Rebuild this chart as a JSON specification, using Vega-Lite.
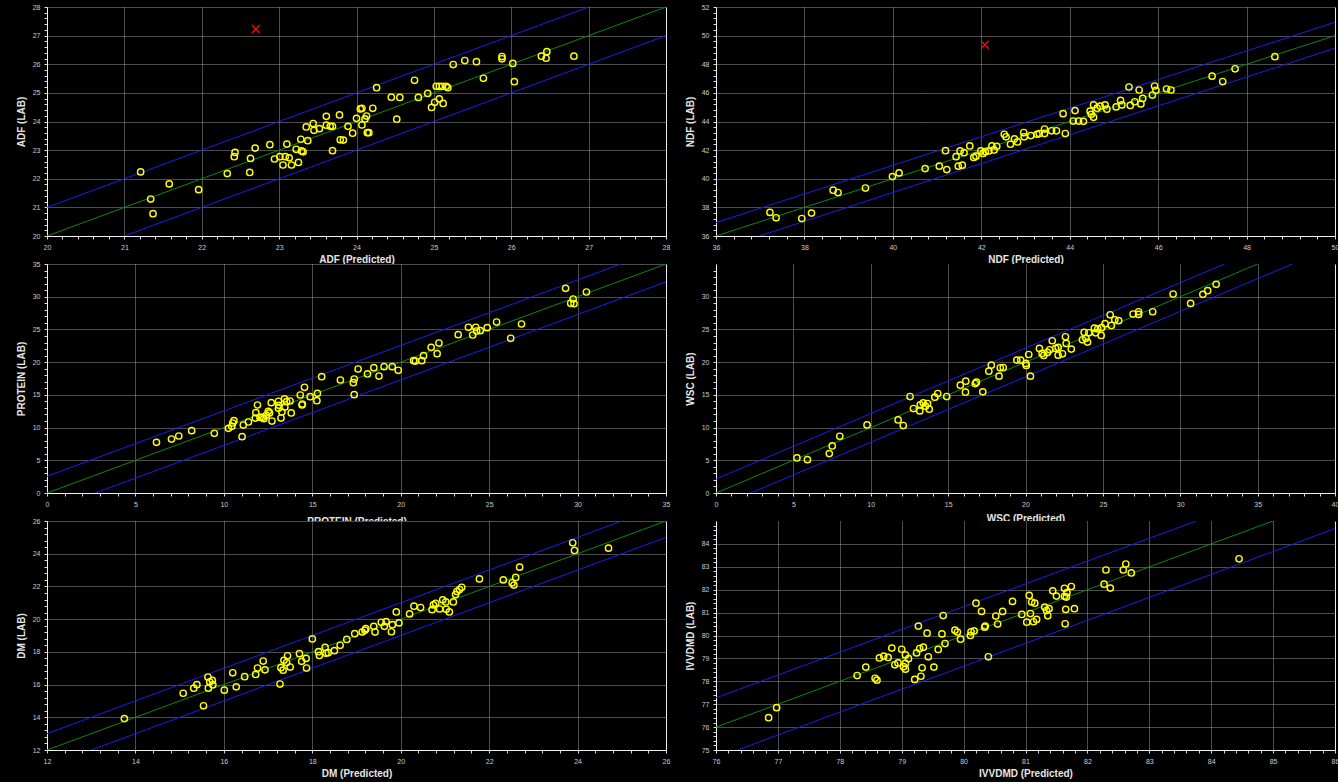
{
  "$schema": "https://vega.github.io/schema/vega-lite/v6.json",
  "autosize": {"type": "none"},
  "padding": {"left": 47, "top": 7, "right": 1291, "bottom": 775},
  "background": "#000000",
  "columns": 2,
  "spacing": {"row": 28, "column": 50},
  "bounds": "flush",
  "datasets": {
    "lines": [
      {"panel": "ADF", "line": "fit", "p": 20, "l": 20}, {"panel": "ADF", "line": "fit", "p": 28, "l": 28},
      {"panel": "ADF", "line": "upper", "p": 20, "l": 21}, {"panel": "ADF", "line": "upper", "p": 27, "l": 28},
      {"panel": "ADF", "line": "lower", "p": 21, "l": 20}, {"panel": "ADF", "line": "lower", "p": 28, "l": 27},
      {"panel": "NDF", "line": "fit", "p": 36, "l": 36}, {"panel": "NDF", "line": "fit", "p": 50, "l": 50},
      {"panel": "NDF", "line": "upper", "p": 36, "l": 36.94}, {"panel": "NDF", "line": "upper", "p": 50, "l": 50.93},
      {"panel": "NDF", "line": "lower", "p": 36.98, "l": 36}, {"panel": "NDF", "line": "lower", "p": 50, "l": 49.12},
      {"panel": "PROTEIN", "line": "fit", "p": 0, "l": 0}, {"panel": "PROTEIN", "line": "fit", "p": 35, "l": 35},
      {"panel": "PROTEIN", "line": "upper", "p": 0, "l": 2.55}, {"panel": "PROTEIN", "line": "upper", "p": 32.45, "l": 35},
      {"panel": "PROTEIN", "line": "lower", "p": 2.72, "l": 0}, {"panel": "PROTEIN", "line": "lower", "p": 35, "l": 32.28},
      {"panel": "WSC", "line": "fit", "p": 0, "l": 0}, {"panel": "WSC", "line": "fit", "p": 35, "l": 35},
      {"panel": "WSC", "line": "upper", "p": 0, "l": 2.14}, {"panel": "WSC", "line": "upper", "p": 32.86, "l": 35},
      {"panel": "WSC", "line": "lower", "p": 2.24, "l": 0}, {"panel": "WSC", "line": "lower", "p": 37.24, "l": 35},
      {"panel": "DM", "line": "fit", "p": 12, "l": 12}, {"panel": "DM", "line": "fit", "p": 26, "l": 26},
      {"panel": "DM", "line": "upper", "p": 12, "l": 13}, {"panel": "DM", "line": "upper", "p": 25, "l": 26},
      {"panel": "DM", "line": "lower", "p": 13, "l": 12}, {"panel": "DM", "line": "lower", "p": 26, "l": 25},
      {"panel": "IVVDMD", "line": "fit", "p": 76, "l": 76}, {"panel": "IVVDMD", "line": "fit", "p": 85, "l": 85},
      {"panel": "IVVDMD", "line": "upper", "p": 76, "l": 77.28}, {"panel": "IVVDMD", "line": "upper", "p": 83.76, "l": 85},
      {"panel": "IVVDMD", "line": "lower", "p": 76.35, "l": 75}, {"panel": "IVVDMD", "line": "lower", "p": 86, "l": 84.67}
    ],
    "outliers": [
      {"panel": "ADF", "p": 22.70, "l": 27.23},
      {"panel": "NDF", "p": 42.08, "l": 49.36}
    ],
    "ADF": [
      {"p":21.21,"l":22.24},{"p":21.34,"l":21.29},{"p":21.37,"l":20.78},{"p":21.58,"l":21.82},{"p":21.96,"l":21.62},
      {"p":22.33,"l":22.18},{"p":22.42,"l":22.77},{"p":22.43,"l":22.92},{"p":22.62,"l":22.22},{"p":22.63,"l":22.71},
      {"p":22.69,"l":23.07},{"p":22.88,"l":23.19},{"p":22.94,"l":22.69},{"p":23.01,"l":22.77},{"p":23.05,"l":22.48},
      {"p":23.08,"l":22.77},{"p":23.10,"l":23.21},{"p":23.13,"l":22.73},{"p":23.16,"l":22.48},{"p":23.22,"l":23.03},
      {"p":23.25,"l":22.57},{"p":23.28,"l":23.38},{"p":23.29,"l":22.97},{"p":23.31,"l":22.94},{"p":23.35,"l":23.81},
      {"p":23.37,"l":23.33},{"p":23.44,"l":23.93},{"p":23.45,"l":23.69},{"p":23.52,"l":23.75},{"p":23.61,"l":24.18},
      {"p":23.61,"l":23.87},{"p":23.66,"l":23.83},{"p":23.69,"l":23.83},{"p":23.69,"l":22.98},{"p":23.78,"l":24.23},
      {"p":23.79,"l":23.36},{"p":23.83,"l":23.35},{"p":23.89,"l":23.83},{"p":23.95,"l":23.59},{"p":24.00,"l":24.11},
      {"p":24.05,"l":24.44},{"p":24.07,"l":24.46},{"p":24.07,"l":23.88},{"p":24.11,"l":24.09},{"p":24.13,"l":24.19},
      {"p":24.14,"l":23.61},{"p":24.16,"l":23.61},{"p":24.21,"l":24.46},{"p":24.26,"l":25.18},{"p":24.45,"l":24.85},
      {"p":24.52,"l":24.08},{"p":24.56,"l":24.84},{"p":24.75,"l":25.44},{"p":24.80,"l":24.84},{"p":24.92,"l":24.98},
      {"p":24.97,"l":24.49},{"p":25.01,"l":24.67},{"p":25.03,"l":25.23},{"p":25.07,"l":25.23},{"p":25.07,"l":24.79},
      {"p":25.11,"l":25.23},{"p":25.12,"l":24.63},{"p":25.16,"l":25.23},{"p":25.18,"l":25.18},{"p":25.25,"l":25.99},
      {"p":25.40,"l":26.13},{"p":25.55,"l":26.09},{"p":25.64,"l":25.51},{"p":25.88,"l":26.19},{"p":25.88,"l":26.27},
      {"p":26.02,"l":26.03},{"p":26.04,"l":25.39},{"p":26.39,"l":26.28},{"p":26.45,"l":26.21},{"p":26.46,"l":26.44},
      {"p":26.81,"l":26.28}
    ],
    "NDF": [
      {"p":37.22,"l":37.65},{"p":37.36,"l":37.27},{"p":37.94,"l":37.22},{"p":38.16,"l":37.60},{"p":38.65,"l":39.20},
      {"p":38.76,"l":39.04},{"p":39.38,"l":39.35},{"p":39.99,"l":40.15},{"p":40.14,"l":40.41},{"p":40.73,"l":40.71},
      {"p":41.05,"l":40.88},{"p":41.19,"l":41.96},{"p":41.22,"l":40.64},{"p":41.43,"l":41.54},{"p":41.48,"l":40.88},
      {"p":41.52,"l":41.94},{"p":41.57,"l":40.95},{"p":41.61,"l":41.82},{"p":41.74,"l":42.29},{"p":41.83,"l":41.49},
      {"p":41.88,"l":41.58},{"p":41.99,"l":41.94},{"p":42.04,"l":41.77},{"p":42.09,"l":41.89},{"p":42.17,"l":41.94},
      {"p":42.24,"l":42.29},{"p":42.29,"l":42.01},{"p":42.35,"l":42.27},{"p":42.52,"l":43.11},{"p":42.56,"l":42.93},
      {"p":42.66,"l":42.41},{"p":42.75,"l":42.78},{"p":42.82,"l":42.57},{"p":42.96,"l":43.23},{"p":42.97,"l":42.93},
      {"p":43.12,"l":43.02},{"p":43.26,"l":43.11},{"p":43.31,"l":43.16},{"p":43.43,"l":43.47},{"p":43.43,"l":43.16},
      {"p":43.59,"l":43.35},{"p":43.70,"l":43.35},{"p":43.85,"l":44.55},{"p":43.90,"l":43.16},{"p":44.08,"l":44.03},
      {"p":44.12,"l":44.76},{"p":44.20,"l":44.03},{"p":44.31,"l":44.01},{"p":44.46,"l":44.72},{"p":44.49,"l":44.50},
      {"p":44.54,"l":45.16},{"p":44.54,"l":44.29},{"p":44.62,"l":44.93},{"p":44.69,"l":45.07},{"p":44.80,"l":45.16},
      {"p":44.84,"l":44.86},{"p":45.05,"l":45.02},{"p":45.15,"l":45.47},{"p":45.18,"l":45.16},{"p":45.34,"l":46.41},
      {"p":45.37,"l":45.12},{"p":45.47,"l":45.38},{"p":45.57,"l":46.20},{"p":45.61,"l":45.23},{"p":45.65,"l":45.61},
      {"p":45.87,"l":45.85},{"p":45.92,"l":46.48},{"p":45.95,"l":46.18},{"p":46.19,"l":46.27},{"p":46.29,"l":46.20},
      {"p":47.22,"l":47.17},{"p":47.46,"l":46.79},{"p":47.74,"l":47.68},{"p":48.64,"l":48.53}
    ],
    "PROTEIN": [
      {"p":6.19,"l":7.74},{"p":7.04,"l":8.25},{"p":7.45,"l":8.71},{"p":8.18,"l":9.53},{"p":9.46,"l":9.12},
      {"p":10.26,"l":9.88},{"p":10.45,"l":10.19},{"p":10.50,"l":10.70},{"p":10.57,"l":11.05},{"p":11.03,"l":8.61},
      {"p":11.10,"l":10.39},{"p":11.39,"l":10.85},{"p":11.78,"l":11.46},{"p":11.81,"l":12.28},{"p":11.90,"l":13.45},
      {"p":12.04,"l":11.56},{"p":12.19,"l":11.56},{"p":12.26,"l":11.36},{"p":12.41,"l":11.87},{"p":12.51,"l":12.48},
      {"p":12.58,"l":12.23},{"p":12.68,"l":13.81},{"p":12.72,"l":11.00},{"p":13.09,"l":14.01},{"p":13.09,"l":12.94},
      {"p":13.11,"l":13.40},{"p":13.23,"l":11.46},{"p":13.28,"l":12.38},{"p":13.43,"l":14.37},{"p":13.45,"l":13.14},
      {"p":13.55,"l":13.96},{"p":13.74,"l":14.06},{"p":13.81,"l":12.23},{"p":14.32,"l":14.98},{"p":14.42,"l":13.45},
      {"p":14.44,"l":13.60},{"p":14.56,"l":16.15},{"p":14.88,"l":14.72},{"p":15.26,"l":14.11},{"p":15.29,"l":15.23},
      {"p":15.53,"l":17.78},{"p":16.59,"l":17.27},{"p":17.32,"l":16.86},{"p":17.37,"l":17.42},{"p":17.37,"l":15.03},
      {"p":17.59,"l":18.95},{"p":18.12,"l":18.19},{"p":18.48,"l":19.15},{"p":18.77,"l":17.88},{"p":19.06,"l":19.31},
      {"p":19.52,"l":19.31},{"p":19.86,"l":18.75},{"p":20.73,"l":20.22},{"p":20.83,"l":20.17},{"p":21.19,"l":20.22},
      {"p":21.29,"l":20.99},{"p":21.72,"l":22.26},{"p":22.06,"l":21.29},{"p":22.16,"l":22.92},{"p":23.25,"l":24.20},
      {"p":23.83,"l":25.32},{"p":24.07,"l":24.15},{"p":24.24,"l":25.32},{"p":24.29,"l":24.76},{"p":24.50,"l":24.81},
      {"p":24.89,"l":25.27},{"p":25.42,"l":26.13},{"p":26.22,"l":23.64},{"p":26.83,"l":25.83},{"p":29.32,"l":31.28},
      {"p":29.61,"l":28.99},{"p":29.75,"l":29.65},{"p":29.80,"l":28.94},{"p":30.50,"l":30.72}
    ],
    "WSC": [
      {"p":5.23,"l":5.36},{"p":5.91,"l":5.10},{"p":7.32,"l":6.02},{"p":7.51,"l":7.19},{"p":8.00,"l":8.67},
      {"p":9.76,"l":10.41},{"p":11.77,"l":11.17},{"p":12.10,"l":10.31},{"p":12.54,"l":14.74},{"p":12.76,"l":12.91},
      {"p":13.17,"l":12.55},{"p":13.20,"l":13.47},{"p":13.39,"l":13.78},{"p":13.53,"l":13.27},{"p":13.67,"l":13.67},
      {"p":13.78,"l":12.81},{"p":14.14,"l":14.64},{"p":14.33,"l":15.20},{"p":14.91,"l":14.74},{"p":15.79,"l":16.48},
      {"p":16.12,"l":15.41},{"p":16.14,"l":17.09},{"p":16.75,"l":16.73},{"p":16.83,"l":16.94},{"p":17.24,"l":15.46},
      {"p":17.63,"l":18.62},{"p":17.79,"l":19.54},{"p":18.29,"l":17.86},{"p":18.37,"l":19.13},{"p":18.56,"l":19.18},
      {"p":19.44,"l":20.31},{"p":19.69,"l":20.31},{"p":20.02,"l":19.80},{"p":20.05,"l":19.49},{"p":20.21,"l":21.17},
      {"p":20.32,"l":17.86},{"p":20.90,"l":22.09},{"p":21.07,"l":21.33},{"p":21.18,"l":21.02},{"p":21.42,"l":21.48},
      {"p":21.56,"l":21.89},{"p":21.73,"l":23.27},{"p":21.95,"l":22.09},{"p":22.11,"l":22.24},{"p":22.11,"l":21.07},
      {"p":22.39,"l":21.28},{"p":22.58,"l":23.88},{"p":22.63,"l":22.86},{"p":22.96,"l":21.99},{"p":23.68,"l":23.42},
      {"p":23.79,"l":24.54},{"p":23.90,"l":23.67},{"p":24.01,"l":23.06},{"p":24.09,"l":24.49},{"p":24.45,"l":25.20},
      {"p":24.53,"l":24.49},{"p":24.67,"l":25.10},{"p":24.89,"l":24.08},{"p":24.92,"l":25.26},{"p":25.14,"l":25.87},
      {"p":25.47,"l":27.24},{"p":25.55,"l":25.61},{"p":25.77,"l":26.48},{"p":26.02,"l":26.33},{"p":26.95,"l":27.35},
      {"p":27.31,"l":27.70},{"p":27.31,"l":27.30},{"p":28.22,"l":27.70},{"p":29.54,"l":30.41},{"p":30.67,"l":28.98},
      {"p":31.46,"l":30.36},{"p":31.77,"l":30.92},{"p":32.32,"l":31.89}
    ],
    "DM": [
      {"p":13.75,"l":13.92},{"p":15.08,"l":15.47},{"p":15.32,"l":15.78},{"p":15.39,"l":15.99},{"p":15.54,"l":14.70},
      {"p":15.64,"l":16.46},{"p":15.65,"l":15.78},{"p":15.68,"l":16.17},{"p":15.74,"l":16.25},{"p":15.75,"l":15.99},
      {"p":16.01,"l":15.66},{"p":16.20,"l":16.72},{"p":16.28,"l":15.86},{"p":16.47,"l":16.48},{"p":16.72,"l":16.62},
      {"p":16.76,"l":17.01},{"p":16.89,"l":17.44},{"p":16.93,"l":16.90},{"p":17.27,"l":16.03},{"p":17.29,"l":17.03},
      {"p":17.34,"l":16.88},{"p":17.36,"l":17.48},{"p":17.42,"l":17.35},{"p":17.44,"l":17.76},{"p":17.50,"l":17.07},
      {"p":17.71,"l":17.89},{"p":17.76,"l":17.42},{"p":17.86,"l":17.60},{"p":17.87,"l":17.01},{"p":18.00,"l":18.79},
      {"p":18.14,"l":18.01},{"p":18.16,"l":17.78},{"p":18.29,"l":18.27},{"p":18.31,"l":17.91},{"p":18.36,"l":17.95},
      {"p":18.50,"l":18.07},{"p":18.63,"l":18.40},{"p":18.78,"l":18.76},{"p":18.96,"l":19.11},{"p":19.13,"l":19.21},
      {"p":19.19,"l":19.32},{"p":19.21,"l":19.42},{"p":19.39,"l":19.56},{"p":19.42,"l":19.21},{"p":19.56,"l":19.81},
      {"p":19.63,"l":19.56},{"p":19.67,"l":19.85},{"p":19.79,"l":19.23},{"p":19.81,"l":19.66},{"p":19.90,"l":20.44},
      {"p":19.96,"l":19.77},{"p":20.20,"l":20.32},{"p":20.30,"l":20.79},{"p":20.45,"l":20.71},{"p":20.71,"l":20.58},
      {"p":20.74,"l":20.87},{"p":20.79,"l":20.97},{"p":20.88,"l":20.62},{"p":20.95,"l":21.18},{"p":21.02,"l":21.05},
      {"p":21.03,"l":20.60},{"p":21.10,"l":20.44},{"p":21.19,"l":21.05},{"p":21.24,"l":21.50},{"p":21.27,"l":21.69},
      {"p":21.33,"l":21.81},{"p":21.38,"l":21.95},{"p":21.78,"l":22.46},{"p":22.32,"l":22.40},{"p":22.52,"l":22.22},
      {"p":22.56,"l":22.08},{"p":22.60,"l":22.55},{"p":22.69,"l":23.18},{"p":23.89,"l":24.67},{"p":23.93,"l":24.20},
      {"p":24.70,"l":24.34}
    ],
    "IVVDMD": [
      {"p":76.85,"l":76.41},{"p":76.98,"l":76.85},{"p":78.28,"l":78.25},{"p":78.42,"l":78.62},{"p":78.57,"l":78.13},
      {"p":78.60,"l":78.05},{"p":78.64,"l":79.02},{"p":78.71,"l":79.10},{"p":78.78,"l":79.04},{"p":78.84,"l":79.45},
      {"p":78.89,"l":78.72},{"p":78.94,"l":78.80},{"p":79.00,"l":79.40},{"p":79.03,"l":78.64},{"p":79.06,"l":78.78},
      {"p":79.06,"l":79.15},{"p":79.06,"l":78.53},{"p":79.11,"l":78.99},{"p":79.21,"l":78.08},{"p":79.24,"l":79.24},
      {"p":79.27,"l":80.41},{"p":79.29,"l":79.43},{"p":79.31,"l":78.22},{"p":79.33,"l":78.59},{"p":79.35,"l":79.49},
      {"p":79.41,"l":80.10},{"p":79.43,"l":79.07},{"p":79.52,"l":78.62},{"p":79.59,"l":79.39},{"p":79.65,"l":80.07},
      {"p":79.67,"l":80.87},{"p":79.70,"l":79.65},{"p":79.86,"l":80.23},{"p":79.90,"l":80.15},{"p":79.95,"l":79.84},
      {"p":80.11,"l":80.00},{"p":80.12,"l":80.16},{"p":80.17,"l":80.20},{"p":80.20,"l":81.41},{"p":80.29,"l":81.05},
      {"p":80.34,"l":80.36},{"p":80.35,"l":80.41},{"p":80.40,"l":79.07},{"p":80.52,"l":80.85},{"p":80.55,"l":80.50},
      {"p":80.63,"l":81.05},{"p":80.79,"l":81.49},{"p":80.94,"l":80.92},{"p":81.02,"l":80.58},{"p":81.06,"l":81.75},
      {"p":81.08,"l":80.96},{"p":81.10,"l":81.46},{"p":81.13,"l":80.60},{"p":81.15,"l":81.41},{"p":81.18,"l":80.70},
      {"p":81.31,"l":81.24},{"p":81.34,"l":81.09},{"p":81.36,"l":80.86},{"p":81.38,"l":81.17},{"p":81.44,"l":81.95},
      {"p":81.50,"l":81.72},{"p":81.63,"l":82.06},{"p":81.63,"l":81.71},{"p":81.64,"l":80.51},{"p":81.65,"l":81.14},
      {"p":81.66,"l":81.68},{"p":81.67,"l":81.87},{"p":81.74,"l":82.14},{"p":81.79,"l":81.17},{"p":82.27,"l":82.24},
      {"p":82.30,"l":82.86},{"p":82.37,"l":82.07},{"p":82.58,"l":82.86},{"p":82.62,"l":83.12},{"p":82.71,"l":82.73},
      {"p":84.45,"l":83.35}
    ]
  },
  "concat": [
    {
      "width": 619, "height": 229,
      "encoding": {
        "x": {"field": "p", "type": "quantitative", "scale": {"domain": [20, 28], "nice": false, "zero": false},
          "axis": {"title": "ADF (Predicted)", "tickCount": 500, "labelOverlap": false,
            "values": [20,20.2,20.4,20.6,20.8,21,21.2,21.4,21.6,21.8,22,22.2,22.4,22.6,22.8,23,23.2,23.4,23.6,23.8,24,24.2,24.4,24.6,24.8,25,25.2,25.4,25.6,25.8,26,26.2,26.4,26.6,26.8,27,27.2,27.4,27.6,27.8,28],
            "labelExpr": "abs(datum.value - round(datum.value)) < 0.01 ? format(datum.value, 'd') : ''",
            "gridOpacity": {"condition": {"test": "abs(datum.value - round(datum.value)) < 0.01", "value": 1}, "value": 0},
            "gridColor": {"condition": {"test": "datum.value > 27.99", "value": "#eeeeee"}, "value": "#9a9a9a"},
            "gridDash": {"condition": {"test": "datum.value > 27.99", "value": []}, "value": [1, 1]}}},
        "y": {"field": "l", "type": "quantitative", "scale": {"domain": [20, 28], "nice": false, "zero": false},
          "axis": {"title": "ADF (LAB)", "tickCount": 500, "labelOverlap": false,
            "values": [20,20.2,20.4,20.6,20.8,21,21.2,21.4,21.6,21.8,22,22.2,22.4,22.6,22.8,23,23.2,23.4,23.6,23.8,24,24.2,24.4,24.6,24.8,25,25.2,25.4,25.6,25.8,26,26.2,26.4,26.6,26.8,27,27.2,27.4,27.6,27.8,28],
            "labelExpr": "abs(datum.value - round(datum.value)) < 0.01 ? format(datum.value, 'd') : ''",
            "gridOpacity": {"condition": {"test": "abs(datum.value - round(datum.value)) < 0.01", "value": 1}, "value": 0}}}
      },
      "layer": [
        {"data": {"name": "lines"}, "transform": [{"filter": "datum.panel === 'ADF'"}],
         "mark": {"type": "line", "clip": true, "strokeWidth": 1},
         "encoding": {"color": {"field": "line", "type": "nominal", "scale": {"domain": ["fit", "upper", "lower"], "range": ["#0c8a0c", "#1c1cf0", "#1c1cf0"]}, "legend": null}}},
        {"data": {"name": "ADF"}, "mark": {"type": "point", "shape": "circle", "filled": false, "color": "#ffff00", "size": 40, "strokeWidth": 1.4, "opacity": 1}},
        {"data": {"name": "outliers"}, "transform": [{"filter": "datum.panel === 'ADF'"}],
         "mark": {"type": "point", "shape": "M-1,-1L1,1M-1,1L1,-1", "filled": false, "color": "#e01010", "size": 64, "strokeWidth": 1.5, "opacity": 1}}
      ]
    },
    {
      "width": 619, "height": 229,
      "encoding": {
        "x": {"field": "p", "type": "quantitative", "scale": {"domain": [36, 50], "nice": false, "zero": false},
          "axis": {"title": "NDF (Predicted)", "tickCount": 500, "labelOverlap": false,
            "values": [36,36.4,36.8,37.2,37.6,38,38.4,38.8,39.2,39.6,40,40.4,40.8,41.2,41.6,42,42.4,42.8,43.2,43.6,44,44.4,44.8,45.2,45.6,46,46.4,46.8,47.2,47.6,48,48.4,48.8,49.2,49.6,50],
            "labelExpr": "abs(datum.value / 2 - round(datum.value / 2)) < 0.01 ? format(datum.value, 'd') : ''",
            "gridOpacity": {"condition": {"test": "abs(datum.value / 2 - round(datum.value / 2)) < 0.01", "value": 1}, "value": 0},
            "gridColor": {"condition": {"test": "datum.value > 49.99", "value": "#eeeeee"}, "value": "#9a9a9a"},
            "gridDash": {"condition": {"test": "datum.value > 49.99", "value": []}, "value": [1, 1]}}},
        "y": {"field": "l", "type": "quantitative", "scale": {"domain": [36, 52], "nice": false, "zero": false},
          "axis": {"title": "NDF (LAB)", "tickCount": 500, "labelOverlap": false,
            "values": [36,36.4,36.8,37.2,37.6,38,38.4,38.8,39.2,39.6,40,40.4,40.8,41.2,41.6,42,42.4,42.8,43.2,43.6,44,44.4,44.8,45.2,45.6,46,46.4,46.8,47.2,47.6,48,48.4,48.8,49.2,49.6,50,50.4,50.8,51.2,51.6,52],
            "labelExpr": "abs(datum.value / 2 - round(datum.value / 2)) < 0.01 ? format(datum.value, 'd') : ''",
            "gridOpacity": {"condition": {"test": "abs(datum.value / 2 - round(datum.value / 2)) < 0.01", "value": 1}, "value": 0}}}
      },
      "layer": [
        {"data": {"name": "lines"}, "transform": [{"filter": "datum.panel === 'NDF'"}],
         "mark": {"type": "line", "clip": true, "strokeWidth": 1},
         "encoding": {"color": {"field": "line", "type": "nominal", "scale": {"domain": ["fit", "upper", "lower"], "range": ["#0c8a0c", "#1c1cf0", "#1c1cf0"]}, "legend": null}}},
        {"data": {"name": "NDF"}, "mark": {"type": "point", "shape": "circle", "filled": false, "color": "#ffff00", "size": 40, "strokeWidth": 1.4, "opacity": 1}},
        {"data": {"name": "outliers"}, "transform": [{"filter": "datum.panel === 'NDF'"}],
         "mark": {"type": "point", "shape": "M-1,-1L1,1M-1,1L1,-1", "filled": false, "color": "#e01010", "size": 64, "strokeWidth": 1.5, "opacity": 1}}
      ]
    },
    {
      "width": 619, "height": 229,
      "encoding": {
        "x": {"field": "p", "type": "quantitative", "scale": {"domain": [0, 35], "nice": false, "zero": false},
          "axis": {"title": "PROTEIN (Predicted)", "tickCount": 500, "labelOverlap": false, "titlePadding": 9,
            "values": [0,1,2,3,4,5,6,7,8,9,10,11,12,13,14,15,16,17,18,19,20,21,22,23,24,25,26,27,28,29,30,31,32,33,34,35],
            "labelExpr": "abs(datum.value / 5 - round(datum.value / 5)) < 0.01 ? format(datum.value, 'd') : ''",
            "gridOpacity": {"condition": {"test": "abs(datum.value / 5 - round(datum.value / 5)) < 0.01", "value": 1}, "value": 0},
            "gridColor": {"condition": {"test": "datum.value > 34.99", "value": "#eeeeee"}, "value": "#9a9a9a"},
            "gridDash": {"condition": {"test": "datum.value > 34.99", "value": []}, "value": [1, 1]}}},
        "y": {"field": "l", "type": "quantitative", "scale": {"domain": [0, 35], "nice": false, "zero": false},
          "axis": {"title": "PROTEIN (LAB)", "tickCount": 500, "labelOverlap": false,
            "values": [0,1,2,3,4,5,6,7,8,9,10,11,12,13,14,15,16,17,18,19,20,21,22,23,24,25,26,27,28,29,30,31,32,33,34,35],
            "labelExpr": "abs(datum.value / 5 - round(datum.value / 5)) < 0.01 ? format(datum.value, 'd') : ''",
            "gridOpacity": {"condition": {"test": "abs(datum.value / 5 - round(datum.value / 5)) < 0.01", "value": 1}, "value": 0}}}
      },
      "layer": [
        {"data": {"name": "lines"}, "transform": [{"filter": "datum.panel === 'PROTEIN'"}],
         "mark": {"type": "line", "clip": true, "strokeWidth": 1},
         "encoding": {"color": {"field": "line", "type": "nominal", "scale": {"domain": ["fit", "upper", "lower"], "range": ["#0c8a0c", "#1c1cf0", "#1c1cf0"]}, "legend": null}}},
        {"data": {"name": "PROTEIN"}, "mark": {"type": "point", "shape": "circle", "filled": false, "color": "#ffff00", "size": 40, "strokeWidth": 1.4, "opacity": 1}}
      ]
    },
    {
      "width": 619, "height": 229,
      "encoding": {
        "x": {"field": "p", "type": "quantitative", "scale": {"domain": [0, 40], "nice": false, "zero": false},
          "axis": {"title": "WSC (Predicted)", "tickCount": 500, "labelOverlap": false, "titlePadding": 6,
            "values": [0,1,2,3,4,5,6,7,8,9,10,11,12,13,14,15,16,17,18,19,20,21,22,23,24,25,26,27,28,29,30,31,32,33,34,35,36,37,38,39,40],
            "labelExpr": "abs(datum.value / 5 - round(datum.value / 5)) < 0.01 ? format(datum.value, 'd') : ''",
            "gridOpacity": {"condition": {"test": "abs(datum.value / 5 - round(datum.value / 5)) < 0.01", "value": 1}, "value": 0},
            "gridColor": {"condition": {"test": "datum.value > 39.99", "value": "#eeeeee"}, "value": "#9a9a9a"},
            "gridDash": {"condition": {"test": "datum.value > 39.99", "value": []}, "value": [1, 1]}}},
        "y": {"field": "l", "type": "quantitative", "scale": {"domain": [0, 35], "nice": false, "zero": false},
          "axis": {"title": "WSC (LAB)", "tickCount": 500, "labelOverlap": false,
            "values": [0,1,2,3,4,5,6,7,8,9,10,11,12,13,14,15,16,17,18,19,20,21,22,23,24,25,26,27,28,29,30,31,32,33,34],
            "labelExpr": "abs(datum.value / 5 - round(datum.value / 5)) < 0.01 ? format(datum.value, 'd') : ''",
            "gridOpacity": {"condition": {"test": "abs(datum.value / 5 - round(datum.value / 5)) < 0.01", "value": 1}, "value": 0}}}
      },
      "layer": [
        {"data": {"name": "lines"}, "transform": [{"filter": "datum.panel === 'WSC'"}],
         "mark": {"type": "line", "clip": true, "strokeWidth": 1},
         "encoding": {"color": {"field": "line", "type": "nominal", "scale": {"domain": ["fit", "upper", "lower"], "range": ["#0c8a0c", "#1c1cf0", "#1c1cf0"]}, "legend": null}}},
        {"data": {"name": "WSC"}, "mark": {"type": "point", "shape": "circle", "filled": false, "color": "#ffff00", "size": 40, "strokeWidth": 1.4, "opacity": 1}}
      ]
    },
    {
      "width": 619, "height": 229,
      "encoding": {
        "x": {"field": "p", "type": "quantitative", "scale": {"domain": [12, 26], "nice": false, "zero": false},
          "axis": {"title": "DM (Predicted)", "tickCount": 500, "labelOverlap": false,
            "values": [12,12.4,12.8,13.2,13.6,14,14.4,14.8,15.2,15.6,16,16.4,16.8,17.2,17.6,18,18.4,18.8,19.2,19.6,20,20.4,20.8,21.2,21.6,22,22.4,22.8,23.2,23.6,24,24.4,24.8,25.2,25.6,26],
            "labelExpr": "abs(datum.value / 2 - round(datum.value / 2)) < 0.01 ? format(datum.value, 'd') : ''",
            "gridOpacity": {"condition": {"test": "abs(datum.value / 2 - round(datum.value / 2)) < 0.01", "value": 1}, "value": 0},
            "gridColor": {"condition": {"test": "datum.value > 25.99", "value": "#eeeeee"}, "value": "#9a9a9a"},
            "gridDash": {"condition": {"test": "datum.value > 25.99", "value": []}, "value": [1, 1]}}},
        "y": {"field": "l", "type": "quantitative", "scale": {"domain": [12, 26], "nice": false, "zero": false},
          "axis": {"title": "DM (LAB)", "tickCount": 500, "labelOverlap": false,
            "values": [12,12.4,12.8,13.2,13.6,14,14.4,14.8,15.2,15.6,16,16.4,16.8,17.2,17.6,18,18.4,18.8,19.2,19.6,20,20.4,20.8,21.2,21.6,22,22.4,22.8,23.2,23.6,24,24.4,24.8,25.2,25.6,26],
            "labelExpr": "abs(datum.value / 2 - round(datum.value / 2)) < 0.01 ? format(datum.value, 'd') : ''",
            "gridOpacity": {"condition": {"test": "abs(datum.value / 2 - round(datum.value / 2)) < 0.01", "value": 1}, "value": 0}}}
      },
      "layer": [
        {"data": {"name": "lines"}, "transform": [{"filter": "datum.panel === 'DM'"}],
         "mark": {"type": "line", "clip": true, "strokeWidth": 1},
         "encoding": {"color": {"field": "line", "type": "nominal", "scale": {"domain": ["fit", "upper", "lower"], "range": ["#0c8a0c", "#1c1cf0", "#1c1cf0"]}, "legend": null}}},
        {"data": {"name": "DM"}, "mark": {"type": "point", "shape": "circle", "filled": false, "color": "#ffff00", "size": 40, "strokeWidth": 1.4, "opacity": 1}}
      ]
    },
    {
      "width": 619, "height": 229,
      "encoding": {
        "x": {"field": "p", "type": "quantitative", "scale": {"domain": [76, 86], "nice": false, "zero": false},
          "axis": {"title": "IVVDMD (Predicted)", "tickCount": 500, "labelOverlap": false,
            "values": [76,76.2,76.4,76.6,76.8,77,77.2,77.4,77.6,77.8,78,78.2,78.4,78.6,78.8,79,79.2,79.4,79.6,79.8,80,80.2,80.4,80.6,80.8,81,81.2,81.4,81.6,81.8,82,82.2,82.4,82.6,82.8,83,83.2,83.4,83.6,83.8,84,84.2,84.4,84.6,84.8,85,85.2,85.4,85.6,85.8,86],
            "labelExpr": "abs(datum.value - round(datum.value)) < 0.01 ? format(datum.value, 'd') : ''",
            "gridOpacity": {"condition": {"test": "abs(datum.value - round(datum.value)) < 0.01", "value": 1}, "value": 0},
            "gridColor": {"condition": {"test": "datum.value > 85.99", "value": "#eeeeee"}, "value": "#9a9a9a"},
            "gridDash": {"condition": {"test": "datum.value > 85.99", "value": []}, "value": [1, 1]}}},
        "y": {"field": "l", "type": "quantitative", "scale": {"domain": [75, 85], "nice": false, "zero": false},
          "axis": {"title": "IVVDMD (LAB)", "tickCount": 500, "labelOverlap": false,
            "values": [75,75.2,75.4,75.6,75.8,76,76.2,76.4,76.6,76.8,77,77.2,77.4,77.6,77.8,78,78.2,78.4,78.6,78.8,79,79.2,79.4,79.6,79.8,80,80.2,80.4,80.6,80.8,81,81.2,81.4,81.6,81.8,82,82.2,82.4,82.6,82.8,83,83.2,83.4,83.6,83.8,84,84.2,84.4,84.6,84.8],
            "labelExpr": "abs(datum.value - round(datum.value)) < 0.01 ? format(datum.value, 'd') : ''",
            "gridOpacity": {"condition": {"test": "abs(datum.value - round(datum.value)) < 0.01", "value": 1}, "value": 0}}}
      },
      "layer": [
        {"data": {"name": "lines"}, "transform": [{"filter": "datum.panel === 'IVVDMD'"}],
         "mark": {"type": "line", "clip": true, "strokeWidth": 1},
         "encoding": {"color": {"field": "line", "type": "nominal", "scale": {"domain": ["fit", "upper", "lower"], "range": ["#0c8a0c", "#1c1cf0", "#1c1cf0"]}, "legend": null}}},
        {"data": {"name": "IVVDMD"}, "mark": {"type": "point", "shape": "circle", "filled": false, "color": "#ffff00", "size": 40, "strokeWidth": 1.4, "opacity": 1}}
      ]
    }
  ],
  "config": {
    "view": {"stroke": null, "fill": "#000000"},
    "axis": {
      "domainColor": "#f2f2f2", "domainWidth": 1,
      "tickColor": "#dddddd", "tickSize": 3, "tickWidth": 1,
      "labelColor": "#cccccc", "labelFont": "Liberation Sans", "labelFontSize": 7, "labelPadding": 4,
      "labelOverlap": false, "labelFlush": false,
      "titleColor": "#e6e6e6", "titleFont": "Liberation Sans", "titleFontSize": 10, "titleFontWeight": "bold",
      "gridColor": "#9a9a9a", "gridDash": [1, 1], "gridWidth": 1
    },
    "axisX": {"titlePadding": 4},
    "axisY": {"titlePadding": 6}
  }
}
